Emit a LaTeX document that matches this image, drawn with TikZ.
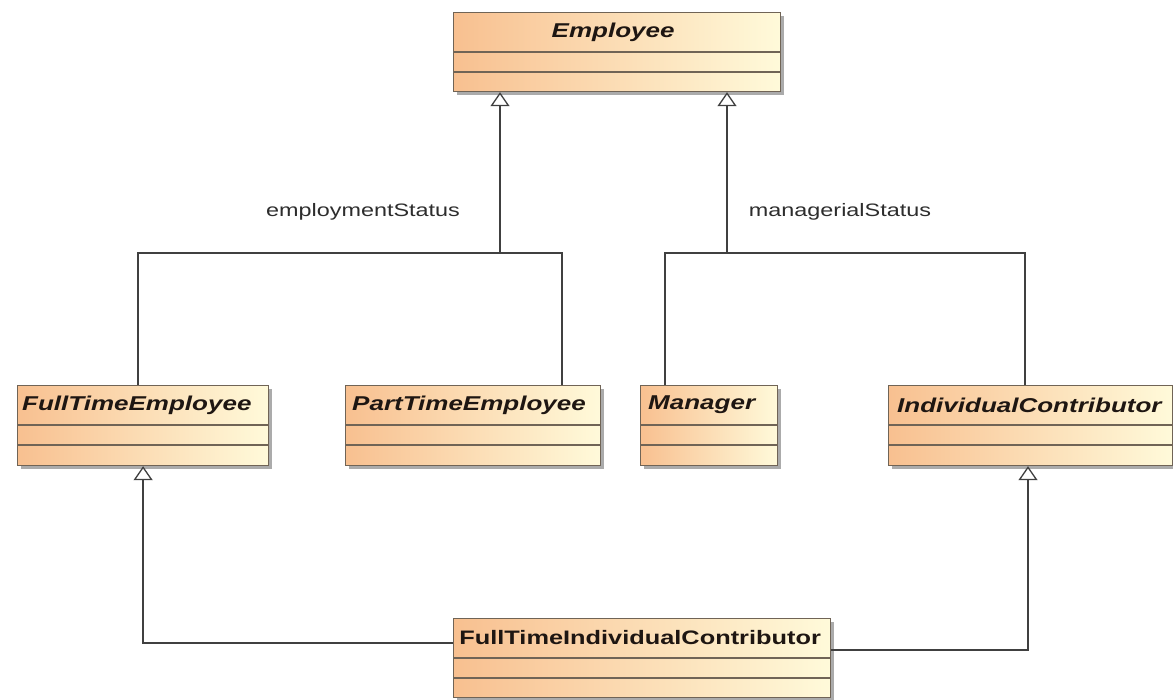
\documentclass[tikz,border=0pt]{standalone}
\usepackage{fontspec}
\setmainfont{Liberation Sans}
\newfontfamily\umlfont[FakeStretch=1.3]{Liberation Sans}
\usetikzlibrary{arrows.meta,shadows,calc}
\definecolor{boxleft}{RGB}{248,192,144}
\definecolor{boxright}{RGB}{255,250,218}
\definecolor{boxline}{RGB}{112,100,86}
\definecolor{connc}{RGB}{64,64,64}
\definecolor{txt}{RGB}{30,22,18}
\definecolor{lbltxt}{RGB}{45,45,45}
\newcommand\umlclass[5]{%
  \node[classbox, minimum width=#4pt, minimum height=#5pt] (#1) at (#2,-#3) {};
  \draw[divider] ($(#1.north west)+(0,-40)$) -- ($(#1.north east)+(0,-40)$);
  \draw[divider] ($(#1.north west)+(0,-60)$) -- ($(#1.north east)+(0,-60)$);
}
\begin{document}
\begin{tikzpicture}[x=1pt,y=1pt,
  classbox/.style={draw=boxline, line width=1.2pt, left color=boxleft, right color=boxright,
    anchor=north west, inner sep=0pt,
    drop shadow={shadow xshift=3pt, shadow yshift=-3pt, fill=black!60, opacity=.55}},
  divider/.style={draw=boxline, line width=1.1pt},
  ctitle/.style={font=\umlfont\fontsize{20}{23}\selectfont\bfseries\itshape, text=txt, inner sep=0pt},
  ctitleup/.style={font=\umlfont\fontsize{19.5}{23}\selectfont\bfseries, text=txt, inner sep=0pt},
  lbl/.style={font=\umlfont\fontsize{18}{21}\selectfont, text=lbltxt, inner sep=0pt},
  connline/.style={draw=connc, line width=1.3pt},
  gen/.style={connline, -{Triangle[open, length=14pt, width=19pt, fill=white]}}
]
\useasboundingbox (0,0) rectangle (1173,-700);
\fill[white] (0,0) rectangle (1173,-700);

% classes
\umlclass{emp}{453}{12}{327}{79}
\umlclass{ft}{17}{385}{251}{80}
\umlclass{pt}{345}{385}{255}{80}
\umlclass{mgr}{640}{385}{137}{80}
\umlclass{ic}{888}{385}{284}{80}
\umlclass{ftic}{453}{618}{377}{79}

% titles
\node[ctitle] (emp-t) at ($(emp.north)+(-4,-20)$) {Employee};
\node[ctitle, anchor=west] (ft-t) at ($(ft.north west)+(5,-20)$) {FullTimeEmployee};
\node[ctitle, anchor=west] (pt-t) at ($(pt.north west)+(7,-20)$) {PartTimeEmployee};
\node[ctitle, anchor=west] (mgr-t) at ($(mgr.north west)+(8,-20)$) {Manager};
\node[ctitle, anchor=west] (ic-t) at ($(ic.north west)+(9,-20)$) {IndividualContributor};
\node[ctitleup] (ftic-t) at ($(ftic.north)+(-2,-20)$) {FullTimeIndividualContributor};

% generalization sets
\coordinate (gsA) at (500,-253);
\coordinate (gsB) at (727,-253);
\draw[gen] (gsA) -- (gsA |- emp.south);
\draw[connline] ($(ft.north)+(-5,0)$) |- (gsA) -| ($(pt.north west)+(217,0)$);
\draw[gen] (gsB) -- (gsB |- emp.south);
\draw[connline] ($(mgr.north west)+(25,0)$) |- (gsB) -| ($(ic.north west)+(137,0)$);

% FullTimeIndividualContributor generalizations
\draw[gen] ($(ftic.north west)+(0,-25)$) -| (ft.south);
\draw[gen] ($(ftic.north east)+(0,-32)$) -| ($(ic.south west)+(140,0)$);

% labels
\node[lbl] (lblA) at (363,-212) {employmentStatus};
\node[lbl] (lblB) at (840,-212) {managerialStatus};
\end{tikzpicture}
\end{document}
